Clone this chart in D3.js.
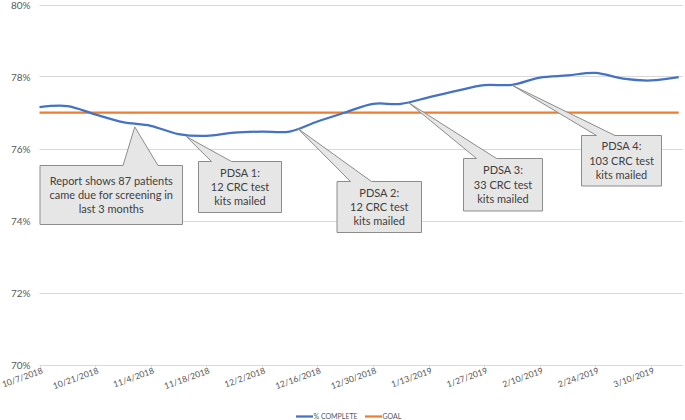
<!DOCTYPE html>
<html>
<head>
<meta charset="utf-8">
<script src="https://cdn.jsdelivr.net/npm/d3@7"></script>
<style>
  html, body { margin: 0; padding: 0; background: #fff; }
  svg { display: block; font-family: Lato, "Open Sans", sans-serif; }
</style>
</head>
<body>
<svg id="chart" width="685" height="420"></svg>
<script>
// ---- data ----
const dates = ["2018-10-07","2018-10-14","2018-10-21","2018-10-28","2018-11-04","2018-11-11",
  "2018-11-18","2018-11-25","2018-12-02","2018-12-09","2018-12-16","2018-12-23",
  "2018-12-30","2019-01-06","2019-01-13","2019-01-20","2019-01-27","2019-02-03",
  "2019-02-10","2019-02-17","2019-02-24","2019-03-03","2019-03-10","2019-03-17"];
const complete = [77.15,77.18,76.95,76.73,76.63,76.40,76.35,76.44,76.47,76.47,76.75,77.00,
  77.24,77.24,77.42,77.60,77.76,77.77,77.97,78.03,78.10,77.94,77.89,77.98];
const goal = [77,77,77,77,77,77,77,77,77,77,77,77,77,77,77,77,77,77,77,77,77,77,77,77];
const tickLabels = ["10/7/2018","10/21/2018","11/4/2018","11/18/2018","12/2/2018","12/16/2018",
  "12/30/2018","1/13/2019","1/27/2019","2/10/2019","2/24/2019","3/10/2019"];
const yTicks = [70,72,74,76,78,80];
const seriesNames = ["% COMPLETE","GOAL"];
const noteTexts = [
  ["Report shows 87 patients","came due for screening in","last 3 months"],
  ["PDSA 1:","12 CRC test","kits mailed"],
  ["PDSA 2:","12 CRC test","kits mailed"],
  ["PDSA 3:","33 CRC test","kits mailed"],
  ["PDSA 4:","103 CRC test","kits mailed"]
];
const noteDates = ["2018-10-31","2018-11-13","2018-12-11","2019-01-08","2019-02-03"];
const noteValues = [76.60,76.33,76.56,77.27,77.76];

// ---- layout (pixels) ----
const noteBoxes = [
  {x0:40,  y0:165.5, x1:182.5, y1:224.5, bl:123, br:158},
  {x0:198.5,y0:161.5, x1:281.5, y1:212.5, bl:211.5, br:231.5},
  {x0:337, y0:181.5, x1:421.5, y1:232.5, bl:350.5, br:371.5},
  {x0:463.5,y0:158.5, x1:542.5, y1:211, bl:476.5, br:496.5},
  {x0:581.5,y0:135.5, x1:661.5, y1:186, bl:596.5, br:615}
];

const parse = d3.timeParse("%Y-%m-%d");
const svg = d3.select("#chart");

const x = d3.scaleTime()
  .domain([parse("2018-10-07"), parse("2019-03-18")])
  .range([39.5, 682.7]);
const y = d3.scaleLinear().domain([70, 80]).range([364.5, 4.5]);

const textGray = "#595959";

// gridlines
svg.append("g").selectAll("line").data(yTicks).join("line")
  .attr("x1", 39.5).attr("x2", 682.7)
  .attr("y1", d => Math.round(y(d)) + 0.5).attr("y2", d => Math.round(y(d)) + 0.5)
  .attr("stroke", "#d9d9d9").attr("stroke-width", 1);

// y labels
svg.append("g").selectAll("text").data(yTicks).join("text")
  .attr("x", 30.5).attr("y", d => y(d) + 4.6)
  .attr("text-anchor", "end")
  .attr("font-size", 10).attr("fill", textGray)
  .text(d => d + "%");

// x ticks & labels
const tickDates = dates.filter((d, i) => i % 2 === 0).map(parse);
svg.append("g").selectAll("line").data(tickDates).join("line")
  .attr("x1", d => Math.round(x(d)) + 0.5).attr("x2", d => Math.round(x(d)) + 0.5)
  .attr("y1", 365).attr("y2", 369)
  .attr("stroke", "#d9d9d9");
svg.append("g").selectAll("text").data(tickDates).join("text")
  .attr("transform", d => `translate(${x(d) + 4},${373}) rotate(-20)`)
  .attr("text-anchor", "end")
  .attr("font-size", 8.6).attr("fill", textGray)
  .text((d, i) => tickLabels[i]);

// lines
const pts = dates.map((d, i) => ({date: parse(d), c: complete[i], g: goal[i]}));
svg.append("path")
  .datum(pts)
  .attr("fill", "none").attr("stroke", "#ED7D31").attr("stroke-width", 2.25)
  .attr("d", d3.line().x(d => x(d.date)).y(d => y(d.g)));
svg.append("path")
  .datum(pts)
  .attr("fill", "none").attr("stroke", "#4472C4").attr("stroke-width", 2.25)
  .attr("stroke-linejoin", "round")
  .attr("d", d3.line().curve(d3.curveCatmullRom.alpha(0.5)).x(d => x(d.date)).y(d => y(d.c)));

// callouts
noteTexts.forEach((lines, i) => {
  const b = noteBoxes[i];
  const tx = x(parse(noteDates[i])), ty = y(noteValues[i]);
  const g = svg.append("g");
  g.append("path")
    .attr("d", `M${b.x0},${b.y0}L${b.bl},${b.y0}L${tx},${ty}L${b.br},${b.y0}L${b.x1},${b.y0}L${b.x1},${b.y1}L${b.x0},${b.y1}Z`)
    .attr("fill", "#e7e6e6").attr("stroke", "#8c8c8c").attr("stroke-width", 1);
  const cx = (b.x0 + b.x1) / 2;
  const lh = 14.3;
  const cy = (b.y0 + b.y1) / 2;
  lines.forEach((t, j) => {
    g.append("text")
      .attr("x", cx).attr("y", cy + (j - (lines.length - 1) / 2) * lh + 4)
      .attr("text-anchor", "middle")
      .attr("font-size", 11).attr("fill", "#404040")
      .text(t);
  });
});

// legend
const legend = svg.append("g");
const legendItems = [
  {name: seriesNames[0], color: "#4472C4", x: 296},
  {name: seriesNames[1], color: "#ED7D31", x: 365}
];
legendItems.forEach(it => {
  legend.append("line").attr("x1", it.x).attr("x2", it.x + 17)
    .attr("y1", 416.5).attr("y2", 416.5)
    .attr("stroke", it.color).attr("stroke-width", 2.25);
  legend.append("text").attr("x", it.x + 17.5).attr("y", 419)
    .attr("font-size", 7).attr("fill", textGray).text(it.name);
});
</script>
</body>
</html>
